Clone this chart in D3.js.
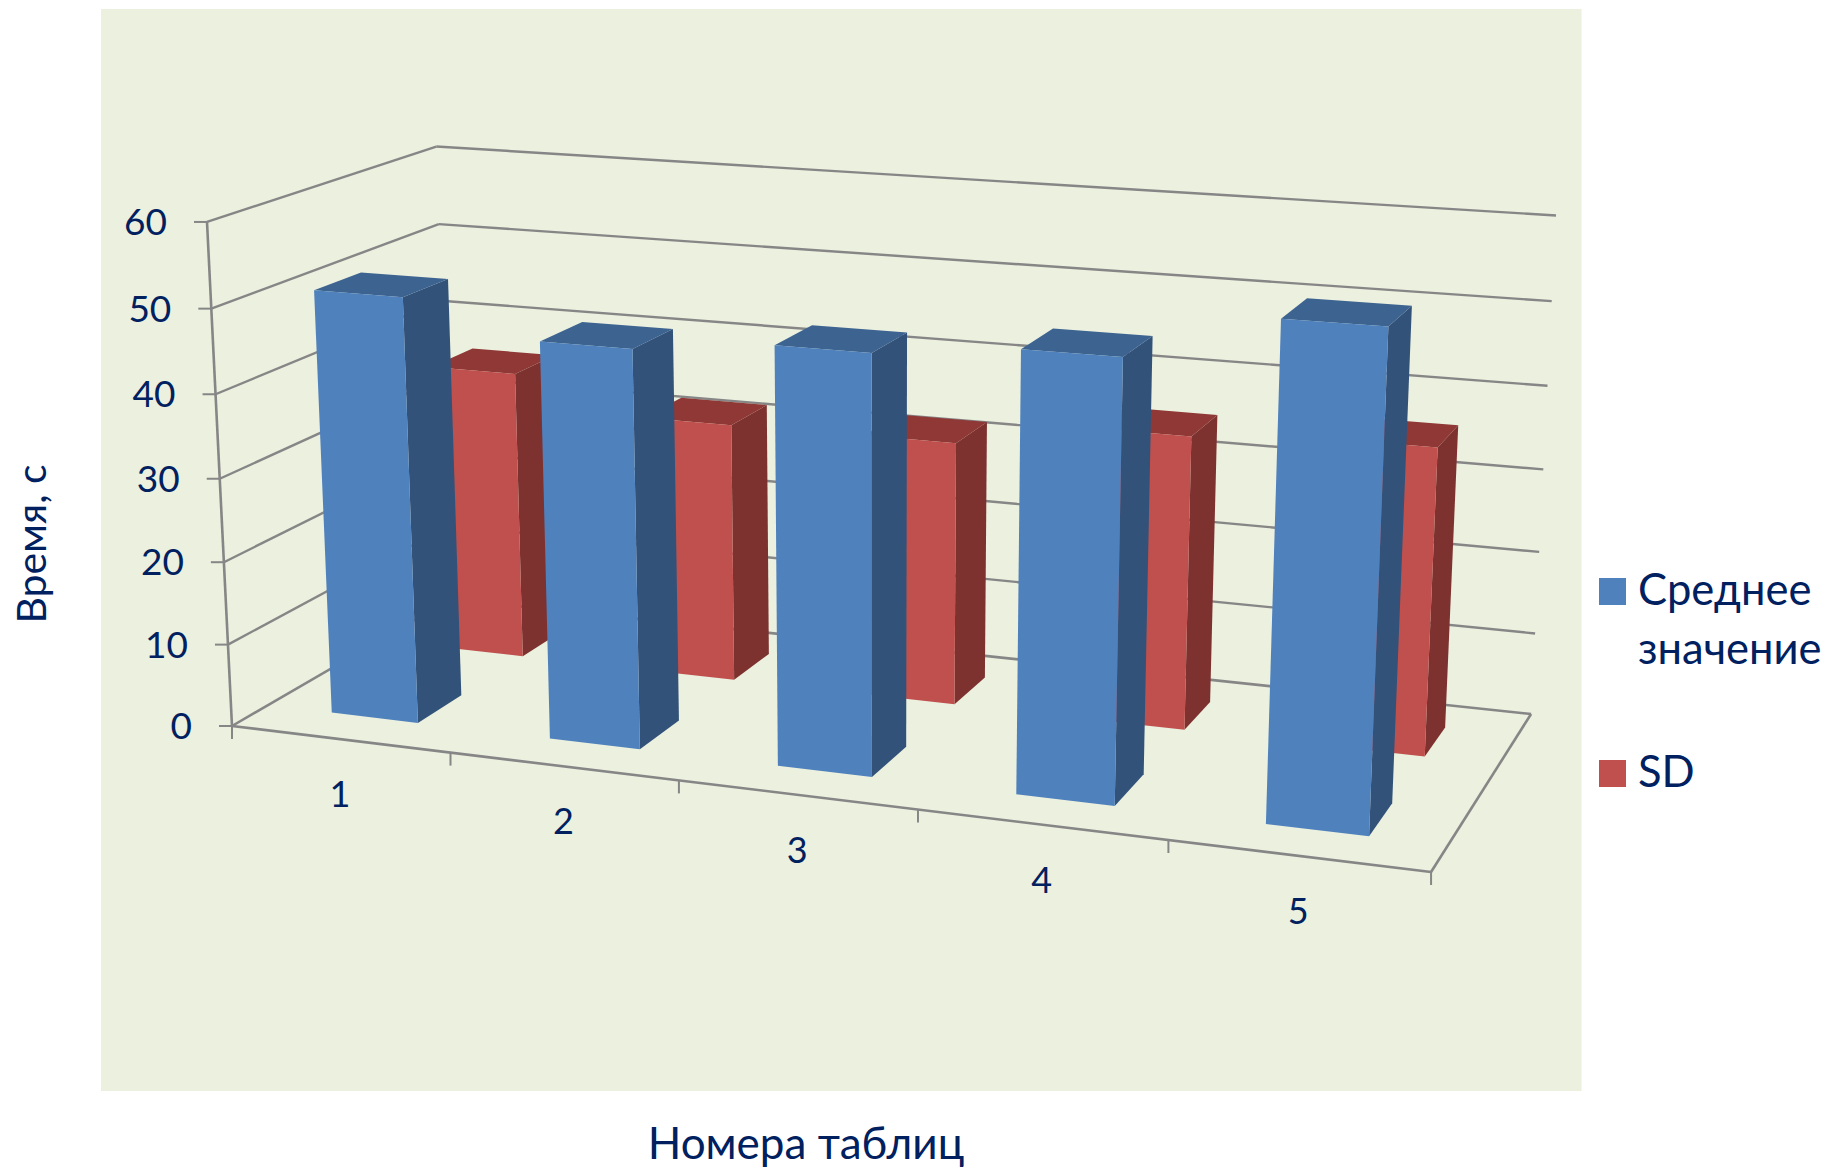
<!DOCTYPE html>
<html lang="ru">
<head>
<meta charset="utf-8">
<script src="https://cdn.jsdelivr.net/npm/d3@7"></script>
<style>
  html, body { margin: 0; padding: 0; background: #fff; }
  svg { display: block; }
  text { font-family: Lato, "Open Sans", sans-serif; fill: #002060; }
</style>
</head>
<body>
<script>
// Chart values
const categories = ["1", "2", "3", "4", "5"];
const seriesNames = ["Среднее значение", "SD"];
const meanValues = [51.1, 47.2, 48.9, 50.6, 56.0];
const sdValues = [36.1, 32.0, 32.2, 35.4, 36.5];
const valueTicks = [0, 10, 20, 30, 40, 50, 60];

const width = 1831, height = 1168;
const svg = d3.select("body").append("svg").attr("width", width).attr("height", height);

// Plot panel
svg.append("rect").attr("x", 101).attr("y", 9).attr("width", 1480.5).attr("height", 1082).attr("fill", "#ebf0df");

// Scales into the unit cube of the 3D scene: u across, v into depth, w up
const uScale = d3.scaleBand().domain(categories).range([0, 1]).paddingInner(0.6).paddingOuter(0.3);
const vScale = d3.scaleBand().domain(seriesNames).range([0, 1]).paddingInner(0.6).paddingOuter(0.3);
const wScale = d3.scaleLinear().domain([0, 60]).range([0, 1]);

// Perspective camera as a 3x4 homogeneous matrix
const cam = {
  xu: 1043.5, xv: 273.2, xw: -32.7, x0: 232,
  yu: 51.2, yv: -55, yw: -512.3, y0: 726,
  hu: -0.1087, hv: 0.1202, hw: -0.0372
};
function project(u, v, w) {
  const d = cam.hu * u + cam.hv * v + cam.hw * w + 1;
  return [
    (cam.xu * u + cam.xv * v + cam.xw * w + cam.x0) / d,
    (cam.yu * u + cam.yv * v + cam.yw * w + cam.y0) / d
  ];
}
const path = d3.line();
const axisColor = "#868686";

function seg(a, b, sw) {
  svg.append("path").attr("d", path([a, b])).attr("fill", "none")
    .attr("stroke", axisColor).attr("stroke-width", sw);
}

// Gridlines on the back and side walls, with ticks on the value axis
valueTicks.forEach(t => {
  const w = wScale(t);
  if (t > 0) {
    seg(project(0, 0, w), project(0, 1, w), 2.4);
    seg(project(0, 1, w), project(1, 1, w), 2.4);
  }
  const p = project(0, 0, w);
  seg([p[0] - 13, p[1]], p, 2);
  svg.append("text").attr("x", p[0] - 40).attr("y", p[1] + 13)
    .attr("text-anchor", "end").attr("font-size", 37).text(t);
});

// Floor outline and value axis line
seg(project(0, 0, 0), project(1, 0, 0), 2.6);
seg(project(1, 0, 0), project(1, 1, 0), 2.6);
seg(project(1, 1, 0), project(0, 1, 0), 2.6);
seg(project(0, 1, 0), project(0, 0, 0), 2.6);
seg(project(0, 0, 0), project(0, 0, 1), 2.6);

// Category ticks and labels
d3.range(categories.length + 1).forEach(i => {
  const p = project(i / categories.length, 0, 0);
  seg(p, [p[0], p[1] + 13], 2);
});
categories.forEach(c => {
  const p = project(uScale(c) + uScale.bandwidth() / 2, 0, 0);
  svg.append("text").attr("x", p[0]).attr("y", p[1] + 68)
    .attr("text-anchor", "middle").attr("font-size", 36).text(c);
});

// Columns: the rear series first so the front row overlaps it
const palette = {
  [seriesNames[0]]: { front: "#4f81bd", side: "#32527a", top: "#3d6391" },
  [seriesNames[1]]: { front: "#c0504d", side: "#7d3230", top: "#8f3836" }
};
const rows = [
  { name: seriesNames[1], values: sdValues },
  { name: seriesNames[0], values: meanValues }
];
rows.forEach(row => {
  const col = palette[row.name];
  const v0 = vScale(row.name), v1 = v0 + vScale.bandwidth();
  const g = svg.append("g");
  categories.forEach((c, i) => {
    const u0 = uScale(c), u1 = u0 + uScale.bandwidth();
    const w = wScale(row.values[i]);
    const face = (pts, fill) => g.append("path")
      .attr("d", path(pts.map(q => project(...q))) + "Z").attr("fill", fill);
    face([[u1, v0, 0], [u1, v1, 0], [u1, v1, w], [u1, v0, w]], col.side);
    face([[u0, v0, w], [u1, v0, w], [u1, v1, w], [u0, v1, w]], col.top);
    face([[u0, v0, 0], [u1, v0, 0], [u1, v0, w], [u0, v0, w]], col.front);
  });
});

// Legend
const legendRows = [
  { name: seriesNames[0], y: 578, lines: ["Среднее", "значение"] },
  { name: seriesNames[1], y: 760, lines: ["SD"] }
];
legendRows.forEach(r => {
  svg.append("rect").attr("x", 1599).attr("y", r.y).attr("width", 27).attr("height", 27)
    .attr("fill", palette[r.name].front);
  r.lines.forEach((l, k) => {
    svg.append("text").attr("x", 1638).attr("y", r.y + 27 + k * 58.5).attr("font-size", 43.5).text(l);
  });
});

// Axis titles
svg.append("text").attr("x", 806).attr("y", 1159).attr("text-anchor", "middle").attr("font-size", 44).text("Номера таблиц");
svg.append("text").attr("transform", "translate(46,544) rotate(-90)").attr("text-anchor", "middle").attr("font-size", 41).text("Время, с");
</script>
</body>
</html>
